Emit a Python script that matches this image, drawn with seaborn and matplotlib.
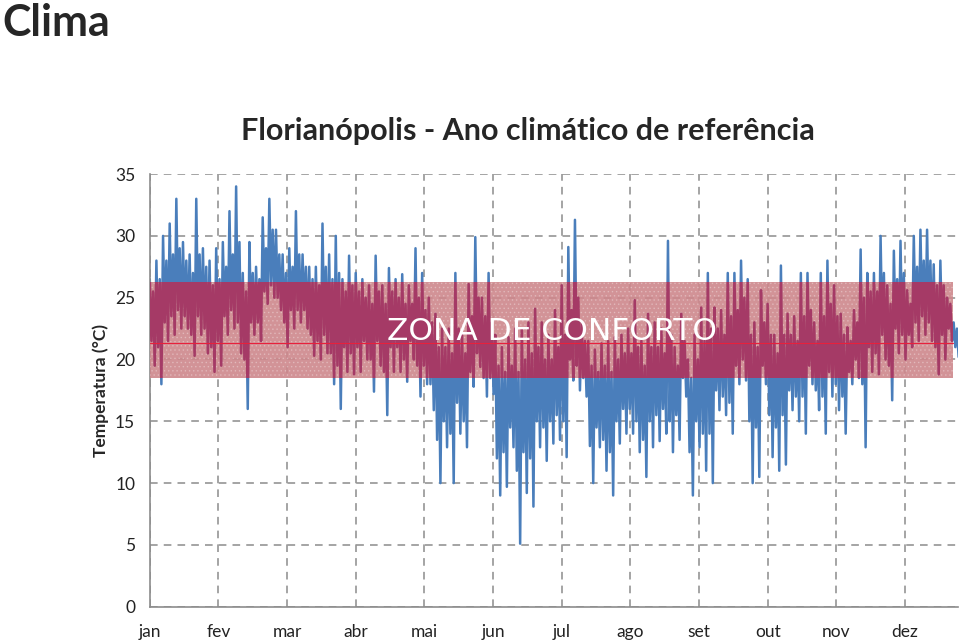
import numpy as np
import pandas as pd
import seaborn as sns
import matplotlib.pyplot as plt
from matplotlib.patches import Rectangle

# Month ticks (every 744 h) and labels
meses = ["jan", "fev", "mar", "abr", "mai", "jun", "jul", "ago", "set", "out", "nov", "dez"]
horas_tick = [0, 744, 1488, 2232, 2976, 3720, 4464, 5208, 5952, 6696, 7440, 8184]

# Temperatures read per 3-day block (72 h): extremes and typical high/low
temp_max = [26.5, 28.0, 30.0, 31.0, 33.0, 29.5, 28.5, 33.0, 29.0, 28.0,
            29.0, 29.5, 32.0, 34.0, 27.0, 29.5, 27.5, 31.5, 33.0, 30.5,
            28.5, 29.0, 32.0, 28.5, 27.5, 27.5, 31.0, 28.5, 30.0, 26.5,
            28.4, 27.0, 26.5, 26.0, 28.4, 26.0, 27.4, 26.5, 26.9, 26.0,
            29.0, 27.0, 25.0, 23.7, 22.5, 22.5, 27.0, 22.0, 26.1, 29.9,
            25.0, 27.0, 22.0, 21.0, 21.8, 22.5, 22.5, 23.0, 24.1, 23.0,
            22.0, 24.0, 26.0, 29.1, 31.3, 23.0, 21.5, 20.8, 21.3, 21.5,
            21.8, 22.0, 22.5, 24.8, 21.5, 23.7, 23.0, 22.5, 29.6, 21.0,
            23.7, 20.0, 22.0, 24.2, 27.0, 24.2, 24.0, 27.0, 27.0, 28.0,
            26.5, 23.0, 25.6, 24.5, 22.0, 27.6, 23.7, 23.5, 27.0, 27.0,
            23.0, 27.0, 28.0, 26.0, 23.7, 22.6, 24.0, 28.9, 27.0, 27.0,
            30.0, 26.0, 28.8, 29.6, 25.6, 30.0, 30.5, 30.5, 27.7, 28.0,
            25.0, 23.0]
temp_min = [19.5, 18.0, 21.5, 22.0, 22.5, 22.5, 20.3, 22.0, 20.5, 19.0,
            19.5, 22.0, 22.5, 20.5, 16.0, 22.0, 21.5, 24.5, 25.0, 24.0,
            21.0, 22.5, 23.0, 22.5, 20.3, 20.0, 20.5, 18.0, 16.0, 19.0,
            18.8, 19.0, 20.0, 17.4, 19.5, 15.5, 19.0, 19.0, 18.2, 20.0,
            17.0, 18.0, 15.9, 10.0, 12.9, 10.0, 14.0, 12.9, 17.8, 19.4,
            17.0, 17.2, 9.0, 9.7, 12.9, 5.1, 9.2, 8.1, 12.9, 11.8,
            13.2, 13.5, 12.1, 18.3, 17.5, 17.0, 10.0, 12.9, 11.0, 9.0,
            13.2, 14.0, 14.0, 12.5, 10.5, 12.9, 13.4, 14.0, 12.5, 13.5,
            17.0, 9.0, 12.9, 11.0, 10.0, 15.9, 15.5, 14.0, 18.0, 18.3,
            10.0, 10.5, 18.0, 12.1, 11.0, 11.5, 15.9, 15.0, 14.0, 18.0,
            15.9, 14.0, 17.0, 15.9, 14.0, 18.0, 18.5, 12.9, 19.0, 18.8,
            20.0, 16.7, 20.5, 20.0, 21.0, 21.5, 22.0, 21.5, 18.8, 20.0,
            21.5, 20.2]
temp_alta = [25.5, 26.5, 28.0, 28.5, 29.0, 28.0, 27.0, 28.5, 27.5, 26.0,
             26.5, 27.5, 28.5, 29.5, 25.5, 27.0, 26.5, 29.0, 30.5, 28.5,
             27.0, 27.5, 28.5, 27.5, 26.5, 26.0, 27.5, 26.5, 27.0, 25.5,
             26.0, 25.5, 25.0, 24.5, 25.5, 24.5, 25.5, 25.0, 24.5, 24.5,
             25.0, 24.0, 23.0, 21.0, 21.0, 20.5, 22.5, 20.5, 23.5, 25.0,
             23.5, 23.0, 19.5, 19.0, 19.5, 19.0, 20.0, 20.5, 21.0, 20.0,
             20.0, 21.0, 22.0, 24.0, 25.0, 21.5, 19.5, 19.0, 19.5, 19.0,
             20.0, 20.5, 20.5, 21.0, 19.5, 21.0, 21.0, 20.5, 22.0, 19.5,
             21.5, 18.5, 20.0, 21.5, 22.5, 22.5, 22.0, 23.5, 24.0, 25.0,
             22.0, 21.0, 23.0, 22.0, 20.5, 22.0, 22.0, 21.5, 23.5, 24.0,
             21.5, 23.5, 24.5, 23.5, 22.0, 21.5, 23.0, 25.0, 25.5, 25.5,
             27.0, 24.5, 26.5, 27.0, 24.5, 27.5, 28.0, 28.0, 26.0, 26.0,
             24.5, 22.5]
temp_baixa = [21.5, 21.0, 23.0, 23.5, 24.0, 23.5, 22.0, 23.5, 22.5, 21.0,
              21.5, 23.5, 24.0, 23.0, 20.0, 23.0, 23.0, 25.5, 26.0, 25.0,
              23.0, 24.0, 24.0, 24.0, 22.0, 21.5, 22.0, 20.5, 19.5, 21.0,
              20.5, 21.0, 21.5, 20.0, 21.5, 19.0, 21.0, 21.0, 20.0, 21.5,
              19.5, 19.5, 18.0, 13.5, 15.0, 14.0, 16.5, 15.0, 19.0, 20.5,
              18.5, 18.5, 12.0, 12.5, 14.5, 11.0, 12.5, 12.0, 15.0, 14.5,
              15.0, 15.5, 15.0, 20.0, 19.5, 18.5, 13.0, 14.5, 13.5, 12.5,
              15.0, 16.0, 16.0, 15.0, 13.5, 15.0, 15.5, 16.0, 15.0, 15.5,
              18.5, 12.5, 15.0, 14.0, 14.0, 17.5, 17.0, 16.5, 19.5, 20.0,
              15.0, 14.5, 19.5, 15.5, 14.5, 15.5, 17.5, 17.0, 17.0, 19.5,
              17.5, 17.0, 19.0, 18.0, 17.0, 19.0, 20.0, 18.0, 21.0, 20.5,
              22.0, 19.5, 22.5, 22.0, 22.0, 23.0, 23.5, 23.0, 21.0, 22.0,
              22.5, 21.0]

# Comfort zone
conforto_min = 18.5
conforto_max = 26.3
conforto_ref = 21.3
conforto_fim = 8700

temps = [v for bloco in zip(temp_max, temp_baixa, temp_alta, temp_min) for v in bloco]
df = pd.DataFrame({"hora": np.arange(len(temps)) * 18, "temp": temps})

sns.set_style("white")
plt.rcParams["font.family"] = ["Lato", "DejaVu Sans"]
plt.rcParams["hatch.linewidth"] = 0.6

fig = plt.figure(figsize=(9.6, 6.4), dpi=100)
ax = fig.add_axes([0.156, 0.052, 0.842, 0.676])

ax.grid(True, color="#8c8c8c", linestyle=(0, (5, 4)), linewidth=1.1)
ax.set_axisbelow(True)

# hourly temperature line
sns.lineplot(data=df, x="hora", y="temp", ax=ax, color="#4a7ebb",
             linewidth=1.8, zorder=2)

# comfort band (pink, dotted) with the line showing through in purple
ax.add_patch(Rectangle((0, conforto_min), conforto_fim, conforto_max - conforto_min,
                       facecolor="#cd878c", alpha=0.9, linewidth=0, zorder=3))
ax.add_patch(Rectangle((0, conforto_min), conforto_fim, conforto_max - conforto_min,
                       facecolor="none", edgecolor=(1, 1, 1, 0.25), hatch="....",
                       linewidth=0, zorder=3))
clip = Rectangle((0, conforto_min), conforto_fim, conforto_max - conforto_min,
                 transform=ax.transData, facecolor="none", linewidth=0)
sns.lineplot(data=df, x="hora", y="temp", ax=ax, color="#a53a66",
             linewidth=1.8, zorder=4)
ax.lines[-1].set_clip_path(clip)

ax.plot([0, conforto_fim], [conforto_ref, conforto_ref], color="#e8203c",
        linewidth=0.8, zorder=5)
ax.text(2570, 22.3, "ZONA DE CONFORTO", color="white", fontsize=22.5,
        family="DejaVu Sans", va="center", ha="left", zorder=6)

ax.set_xlim(0, 8760)
ax.set_ylim(0, 35)
ax.set_xticks(horas_tick)
ax.set_xticklabels(meses)
ax.set_yticks(range(0, 36, 5))
ax.tick_params(axis="both", labelsize=12.5, colors="#222222", length=5,
               color="#8c8c8c", direction="inout")
ax.tick_params(axis="x", pad=10)
ax.tick_params(axis="y", pad=8)
for s in ["top", "right"]:
    ax.spines[s].set_visible(False)
for s in ["left", "bottom"]:
    ax.spines[s].set_color("#8c8c8c")
    ax.spines[s].set_linewidth(1.2)

ax.set_xlabel("")
ax.set_ylabel("Temperatura (°C)", fontsize=12.5, fontweight="bold", labelpad=4)

fig.text(0.55, 0.795, "Florianópolis - Ano climático de referência",
         fontsize=22, fontweight="bold", ha="center", va="center")
fig.text(0.002, 0.995, "Clima", fontsize=31, fontweight="bold", ha="left", va="top")

fig.savefig("out.png", dpi=100)
